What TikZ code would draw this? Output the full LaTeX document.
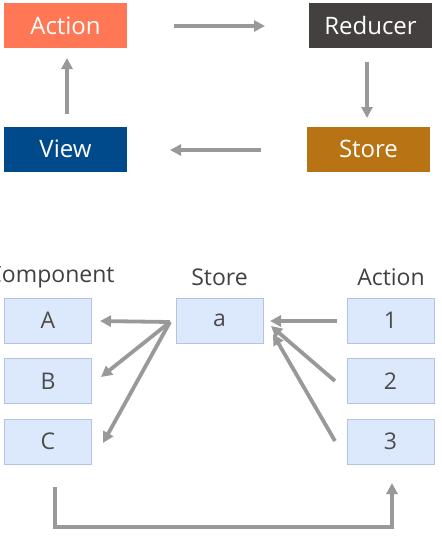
\documentclass[tikz,border=0pt]{standalone}
\usepackage{fontspec}
\setmainfont{Open Sans}
\usetikzlibrary{arrows.meta}
\definecolor{coral}{HTML}{FF7755}
\definecolor{darkbox}{HTML}{444040}
\definecolor{bluebox}{HTML}{004A8C}
\definecolor{ochre}{HTML}{B87314}
\definecolor{lightfill}{HTML}{DCE8FC}
\definecolor{lightdraw}{HTML}{B4C4DC}
\definecolor{arrowgray}{HTML}{999999}
\tikzset{
  bigbox/.style={minimum width=123pt, minimum height=45pt, inner sep=0pt, text=white, font=\fontsize{24}{28}\selectfont},
  smallbox/.style={draw=lightdraw, line width=0.8pt, fill=lightfill, minimum width=87pt, minimum height=45pt, inner sep=0pt, text=black!70, font=\fontsize{23}{26}\selectfont},
  lbl/.style={text=black!75, font=\fontsize{23}{26}\selectfont, inner sep=0pt},
  arr/.style={draw=arrowgray, line width=3.8pt, -{Triangle[length=11pt,width=11pt]}},
}
\begin{document}
\begin{tikzpicture}[x=1pt,y=-1pt]
\useasboundingbox (0,0) rectangle (442,539);
% top
\node[bigbox, fill=coral] (act) at (65.5,25.5) {Action};
\node[bigbox, fill=darkbox] (red) at (370.5,25.5) {Reducer};
\node[bigbox, fill=bluebox] (view) at (65.5,149) {View};
\node[bigbox, fill=ochre] (store) at (368.5,149) {Store};
\coordinate (ar1s) at (174,26);
\coordinate (ar1e) at (265,26);
\draw[arr] (ar1s) -- (ar1e);
\coordinate (ar2s) at (367,62);
\coordinate (ar2e) at (367,118);
\draw[arr] (ar2s) -- (ar2e);
\coordinate (ar3s) at (261,150);
\coordinate (ar3e) at (170,150);
\draw[arr] (ar3s) -- (ar3e);
\coordinate (ar4s) at (67,114);
\coordinate (ar4e) at (67,58);
\draw[arr] (ar4s) -- (ar4e);
% bottom labels
\node[lbl] (lcomp) at (51,277) {Component};
\node[lbl] (lstore) at (219.5,277) {Store};
\node[lbl] (lact) at (391,277) {Action};
% bottom boxes
\node[smallbox] (A) at (48,320.5) {A};
\node[smallbox] (B) at (48,381) {B};
\node[smallbox] (C) at (48,441.5) {C};
\node[smallbox] (a) at (219.5,320.5) {a};
\node[smallbox] (n1) at (390.5,320.5) {1};
\node[smallbox] (n2) at (390.5,381) {2};
\node[smallbox] (n3) at (390.5,441.5) {3};
% store fan-out
\coordinate (sa) at (170,322);
\coordinate (ea) at (100,321);
\coordinate (eb) at (101,377);
\coordinate (ec) at (103,443);
\draw[arr] (sa) -- (ea);
\draw[arr] (sa) -- (eb);
\draw[arr] (sa) -- (ec);
% fan-in
\coordinate (s1) at (337,321);
\coordinate (s2) at (335,381);
\coordinate (s3) at (335,441);
\coordinate (e1) at (270,321);
\coordinate (e2) at (271,326);
\coordinate (e3) at (273,334);
\draw[arr] (s1) -- (e1);
\draw[arr] (s2) -- (e2);
\draw[arr] (s3) -- (e3);
% loop
\coordinate (l1) at (55,487);
\coordinate (l2) at (55,527);
\coordinate (l3) at (392,527);
\coordinate (l4) at (392,483);
\draw[arr] (l1) -- (l2) -- (l3) -- (l4);
\end{tikzpicture}
\end{document}
